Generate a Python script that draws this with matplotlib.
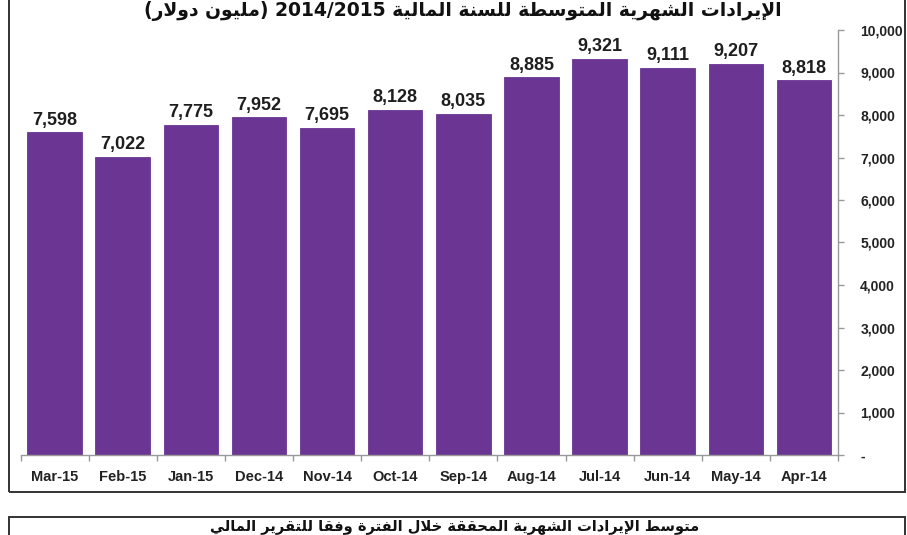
import re
import matplotlib
matplotlib.use("Agg")
import matplotlib.pyplot as plt
from matplotlib.patches import Rectangle
from matplotlib.ticker import FuncFormatter, FixedLocator

# ---------------- data ----------------
months = ["Mar-15", "Feb-15", "Jan-15", "Dec-14", "Nov-14", "Oct-14",
          "Sep-14", "Aug-14", "Jul-14", "Jun-14", "May-14", "Apr-14"]
values = [7598, 7022, 7775, 7952, 7695, 8128, 8035, 8885, 9321, 9111, 9207, 8818]
y_ticks = [0, 1000, 2000, 3000, 4000, 5000, 6000, 7000, 8000, 9000, 10000]
title_text = "الإيرادات الشهرية المتوسطة للسنة المالية 2014/2015 (مليون دولار)"
lower_text = "متوسط الإيرادات الشهرية المحققة خلال الفترة وفقاً للتقرير المالي"

# ---------------- minimal Arabic shaping ----------------
_FORMS = {
    'ا': (0xFE8D, 2), 'أ': (0xFE83, 2), 'إ': (0xFE87, 2), 'آ': (0xFE81, 2),
    'ب': (0xFE8F, 4), 'ة': (0xFE93, 2), 'ت': (0xFE95, 4), 'ث': (0xFE99, 4),
    'ج': (0xFE9D, 4), 'ح': (0xFEA1, 4), 'خ': (0xFEA5, 4), 'د': (0xFEA9, 2),
    'ذ': (0xFEAB, 2), 'ر': (0xFEAD, 2), 'ز': (0xFEAF, 2), 'س': (0xFEB1, 4),
    'ش': (0xFEB5, 4), 'ص': (0xFEB9, 4), 'ض': (0xFEBD, 4), 'ط': (0xFEC1, 4),
    'ظ': (0xFEC5, 4), 'ع': (0xFEC9, 4), 'غ': (0xFECD, 4), 'ف': (0xFED1, 4),
    'ق': (0xFED5, 4), 'ك': (0xFED9, 4), 'ل': (0xFEDD, 4), 'م': (0xFEE1, 4),
    'ن': (0xFEE5, 4), 'ه': (0xFEE9, 4), 'و': (0xFEED, 2), 'ى': (0xFEEF, 2),
    'ي': (0xFEF1, 4),
}
_LAMALEF = {'ا': 0xFEFB, 'أ': 0xFEF7, 'إ': 0xFEF9, 'آ': 0xFEF5}
_MIRROR = {'(': ')', ')': '('}


def _shape(s):
    out = []
    chars = [c for c in s if c != '\u064B']
    i = 0
    n = len(chars)
    while i < n:
        c = chars[i]
        prev = chars[i - 1] if i > 0 else ''
        joins_prev = prev in _FORMS and _FORMS[prev][1] == 4
        if c == 'ل' and i + 1 < n and chars[i + 1] in _LAMALEF:
            base = _LAMALEF[chars[i + 1]]
            out.append(chr(base + (1 if joins_prev else 0)))
            i += 2
            continue
        if c in _FORMS:
            base, nf = _FORMS[c]
            nxt = chars[i + 1] if i + 1 < n else ''
            joins_next = nf == 4 and nxt in _FORMS
            if joins_prev and joins_next:
                off = 3
            elif joins_prev:
                off = 1
            elif joins_next:
                off = 2
            else:
                off = 0
            out.append(chr(base + off))
        else:
            out.append(c)
        i += 1
    return ''.join(out)


def rtl(s):
    shaped = _shape(s)
    runs = re.findall(r'[0-9A-Za-z/.,%\-]+|[^0-9A-Za-z/.,%\-]+', shaped)
    vis = []
    for r in reversed(runs):
        if re.match(r'[0-9A-Za-z/.,%\-]', r[0]):
            vis.append(r)
        else:
            vis.append(''.join(_MIRROR.get(ch, ch) for ch in reversed(r)))
    return ''.join(vis)


# ---------------- figure ----------------
W, H = 907, 535
fig = plt.figure(figsize=(W / 100, H / 100), dpi=100)
fig.patch.set_facecolor("white")

ax = fig.add_axes([20.5 / W, (H - 455) / H, (838 - 20.5) / W, (455 - 30) / H])

x = list(range(len(months)))
bar_color = "#6b3593"
ax.bar(x, values, width=0.8, color=bar_color, edgecolor=bar_color, linewidth=0.6)

for xi, v in zip(x, values):
    ax.annotate(f"{v:,}", (xi, v), xytext=(0, 2.5), textcoords="offset points",
                ha="center", va="bottom", fontsize=13, fontweight="bold",
                color="#1e1e1e", family="Liberation Sans")

ax.set_xlim(-0.5, len(months) - 0.5)
ax.set_ylim(0, 10000)

# x axis
ax.set_xticks(x)
ax.set_xticklabels(months, fontsize=10.5, fontweight="bold", family="Liberation Sans",
                   color="#222222")
ax.xaxis.set_minor_locator(FixedLocator([i - 0.5 for i in range(len(months) + 1)]))
ax.tick_params(axis="x", which="major", length=0, pad=11)
ax.tick_params(axis="x", which="minor", length=4, color="#999999", width=1)

# y axis on right
ax.yaxis.tick_right()
ax.set_yticks(y_ticks)
ax.yaxis.set_major_formatter(FuncFormatter(lambda v, p: "-" if v == 0 else f"{v:,.0f}"))
ax.tick_params(axis="y", length=4, color="#999999", width=1, pad=12,
               labelsize=10, labelcolor="#222222")
for lab in ax.get_yticklabels():
    lab.set_fontweight("bold")
    lab.set_family("Liberation Sans")

for side in ("top", "left"):
    ax.spines[side].set_visible(False)
ax.spines["right"].set_color("#999999")
ax.spines["bottom"].set_color("#999999")
ax.spines["right"].set_linewidth(1)
ax.spines["bottom"].set_linewidth(1)

# outer frames
fig.patches.append(Rectangle((9 / W, (H - 492) / H), (905 - 9) / W, 1.2,
                             transform=fig.transFigure, fill=False,
                             edgecolor="#333333", linewidth=1.4))
fig.patches.append(Rectangle((9 / W, -0.2), (905 - 9) / W, 0.2 + (H - 517) / H,
                             transform=fig.transFigure, fill=False,
                             edgecolor="#333333", linewidth=1.4))

# titles (kept inside the figure)
fig.text(463 / W, (H - 11) / H, rtl(title_text), ha="center", va="center",
         fontsize=13.5, fontweight="bold", family=["DejaVu Sans"], color="#111111")
fig.text(455 / W, (H - 527) / H, rtl(lower_text), ha="center", va="center",
         fontsize=10.5, fontweight="bold", family=["DejaVu Sans"], color="#111111")

fig.savefig("out.png", dpi=100, facecolor="white")
